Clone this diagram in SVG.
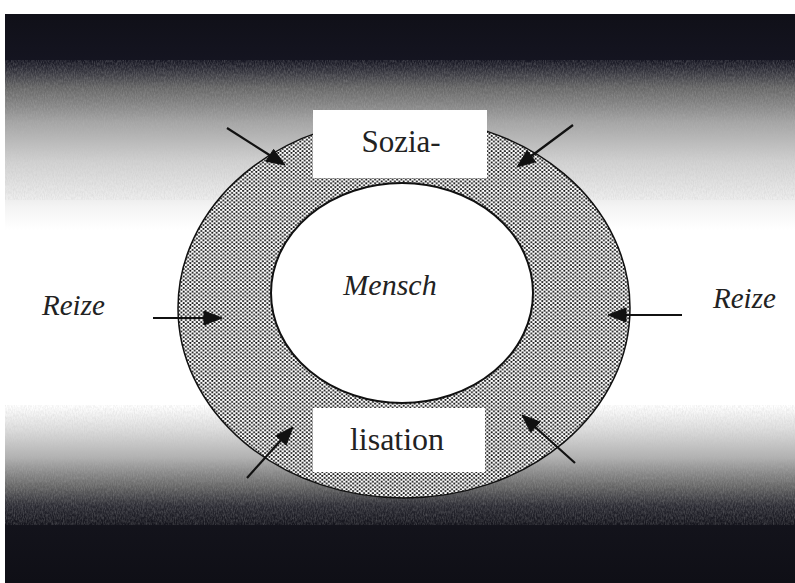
<svg xmlns="http://www.w3.org/2000/svg" width="795" height="583" viewBox="0 0 795 583">
<defs>
<linearGradient id="bg" x1="0" y1="14" x2="0" y2="583" gradientUnits="userSpaceOnUse">
<stop offset="0" stop-color="#101018"/>
<stop offset="0.08" stop-color="#141420"/>
<stop offset="0.095" stop-color="#2a2a34"/>
<stop offset="0.13" stop-color="#666"/>
<stop offset="0.19" stop-color="#a4a4a4"/>
<stop offset="0.26" stop-color="#d2d2d2"/>
<stop offset="0.34" stop-color="#f4f4f4"/>
<stop offset="0.38" stop-color="#fff"/>
<stop offset="0.69" stop-color="#fff"/>
<stop offset="0.73" stop-color="#dedede"/>
<stop offset="0.78" stop-color="#b0b0b0"/>
<stop offset="0.83" stop-color="#666"/>
<stop offset="0.865" stop-color="#2a2a32"/>
<stop offset="0.9" stop-color="#13131b"/>
<stop offset="1" stop-color="#0f0f16"/>
</linearGradient>
<filter id="grain" x="0" y="0" width="1" height="1">
<feTurbulence type="fractalNoise" baseFrequency="0.9 0.35" numOctaves="2" seed="3" result="n"/>
<feColorMatrix in="n" type="matrix" values="0 0 0 0 0.5  0 0 0 0 0.5  0 0 0 0 0.5  0 0 0 1.4 -0.45" result="g"/>
<feComposite in="g" in2="SourceGraphic" operator="in"/>
</filter>
<pattern id="dots" x="0" y="0" width="4.4" height="3.8" patternUnits="userSpaceOnUse">
<rect width="4.4" height="3.8" fill="#fff"/>
<circle cx="1.1" cy="0.95" r="1.05" fill="#151515"/>
<circle cx="3.3" cy="2.85" r="1.05" fill="#151515"/>
</pattern>
</defs>
<style>
.conn line{stroke:#111;stroke-width:2.2;fill:none}
.conn polygon{fill:#111;stroke:#111;stroke-width:1;stroke-linejoin:round}
.sf{font-family:"Liberation Serif","Times New Roman","DejaVu Serif",serif;fill:#222}
.it{font-style:italic}
</style>
<rect width="795" height="583" fill="#fff"/>
<g id="background">
<rect x="5" y="14" width="790" height="569" fill="url(#bg)"/>
<rect x="5" y="60" width="790" height="140" fill="#888" opacity="0.35" filter="url(#grain)"/>
<rect x="5" y="405" width="790" height="120" fill="#888" opacity="0.35" filter="url(#grain)"/>
</g>
<g id="sozialisation">
<ellipse cx="404" cy="308" rx="226" ry="190" fill="url(#dots)" stroke="#111" stroke-width="1.5"/>
<rect x="313" y="110" width="174" height="68" fill="#fff"/>
<text class="sf" x="401" y="152" font-size="31" text-anchor="middle">Sozia-</text>
<rect x="313" y="408" width="172" height="64" fill="#fff"/>
<text class="sf" x="397" y="450" font-size="32" text-anchor="middle">lisation</text>
</g>
<g id="mensch">
<ellipse cx="402" cy="293" rx="131" ry="110" fill="#fff" stroke="#111" stroke-width="2"/>
<text class="sf it" x="390" y="295" font-size="30" text-anchor="middle">Mensch</text>
</g>
<g id="reize-left">
<text class="sf it" x="42" y="315" font-size="29">Reize</text>
</g>
<g id="reize-right">
<text class="sf it" x="713" y="308" font-size="29">Reize</text>
</g>
<g id="connectors" class="conn">
<line x1="153" y1="318" x2="206" y2="318"/>
<polygon points="222,318 204,311 204,325"/>
<line x1="682" y1="315" x2="624" y2="315"/>
<polygon points="608,315 626,308 626,322"/>
<line x1="227" y1="128" x2="271" y2="156"/>
<polygon points="285,165 266,161.2 273.6,149.4"/>
<line x1="573" y1="125" x2="530" y2="157"/>
<polygon points="517,167 527.2,150.6 535.6,161.8"/>
<line x1="247" y1="478" x2="282" y2="439"/>
<polygon points="293,427 286.1,445.1 275.7,435.7"/>
<line x1="575" y1="463" x2="534" y2="426"/>
<polygon points="522,415 540,421.9 530.6,432.3"/>
</g>
</svg>
